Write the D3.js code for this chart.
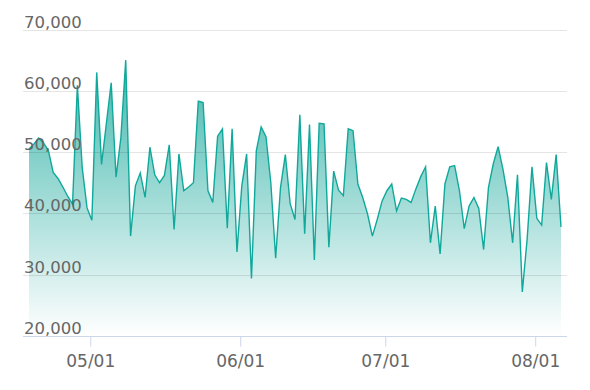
<!DOCTYPE html>
<html>
<head>
<meta charset="utf-8">
<script src="https://cdn.jsdelivr.net/npm/d3@7"></script>
<style>
  html, body { margin: 0; padding: 0; background: #fff; }
  svg { display: block; font-family: "DejaVu Sans", sans-serif; }
</style>
</head>
<body>
<svg id="chart" width="590" height="390"></svg>
<script>
// ---- data ----
const startDay = "2023-04-18T08:00:00Z";   // first daily observation
const values = [
  50500, 51300, 52300, 51500, 50300, 46700, 45700, 44300, 42800, 41500,
  60900, 47500, 40900, 38900, 63000, 48000, 54700, 61300, 45900, 52400,
  65000, 36300, 44500, 46600, 42600, 50800, 46300, 45000, 46200, 51200,
  37400, 49700, 43700, 44300, 45000, 58300, 58100, 43700, 41800, 52600,
  53800, 37600, 53800, 33700, 44500, 49700, 29400, 50200, 54100, 52500,
  45000, 32700, 44200, 49600, 41600, 39000, 56100, 36700, 54500, 32400,
  54700, 54600, 34500, 46900, 43800, 42900, 53800, 53500, 44800, 42600,
  39900, 36300, 39000, 42000, 43700, 44800, 40400, 42500, 42300, 41800,
  44000, 46000, 47600, 35200, 41200, 33400, 44800, 47600, 47800, 43700,
  37500, 41200, 42600, 40800, 34100, 44200, 48100, 50900, 47200, 42600,
  35200, 46300, 27200, 35800, 47600, 39200, 38100, 48300, 42300, 49600,
  37800
];
const yTicks = [20000, 30000, 40000, 50000, 60000, 70000];
const xTickFormat = "%m/%d";

const start = new Date(startDay);
const data = values.map((v, i) => ({ date: d3.utcDay.offset(start, i), value: v }));

// ---- layout ----
const svg = d3.select("#chart");
const plotLeft = 23, plotRight = 567;
const x = d3.scaleUtc()
  .domain(d3.extent(data, d => d.date))
  .range([29, 561]);
const y = d3.scaleLinear().domain([20000, 70000]).range([336, 29.5]);

// gradient
const defs = svg.append("defs");
const grad = defs.append("linearGradient")
  .attr("id", "areaGrad").attr("x1", 0).attr("y1", 0).attr("x2", 0).attr("y2", 1);
grad.append("stop").attr("offset", "0%").attr("stop-color", "#18a89c").attr("stop-opacity", 0.82);
grad.append("stop").attr("offset", "100%").attr("stop-color", "#18a89c").attr("stop-opacity", 0.0);

// area
const area = d3.area()
  .x(d => x(d.date)).y0(y(20000)).y1(d => y(d.value));
svg.append("path").datum(data)
  .attr("d", area).attr("fill", "url(#areaGrad)");

// grid lines (above area, semi-transparent)
svg.append("g").selectAll("line")
  .data(yTicks.filter(t => t !== 20000))
  .join("line")
  .attr("x1", plotLeft).attr("x2", plotRight)
  .attr("y1", d => Math.round(y(d)) + 0.5).attr("y2", d => Math.round(y(d)) + 0.5)
  .attr("stroke", "#000").attr("stroke-opacity", 0.1).attr("stroke-width", 1);

// line
const line = d3.line().x(d => x(d.date)).y(d => y(d.value));
svg.append("path").datum(data)
  .attr("d", line).attr("fill", "none")
  .attr("stroke", "#10a89b").attr("stroke-width", 1.4)
  .attr("stroke-linejoin", "miter");

// y labels
svg.append("g").selectAll("text")
  .data(yTicks)
  .join("text")
  .attr("x", 24).attr("y", d => y(d) - 2)
  .attr("fill", "#666").attr("font-size", 16.5)
  .text(d => d3.format(",")(d));

// x axis
const xAxis = d3.axisBottom(x)
  .ticks(d3.utcMonth.every(1))
  .tickFormat(d3.utcFormat(xTickFormat))
  .tickSizeInner(10).tickSizeOuter(0).tickPadding(8);
const gx = svg.append("g").attr("transform", `translate(0,${Math.round(y(20000)) + 0.5})`).call(xAxis);
gx.select(".domain").remove();
gx.insert("line", ":first-child")
  .attr("x1", plotLeft).attr("x2", plotRight).attr("y1", 0).attr("y2", 0)
  .attr("stroke", "#ccd6eb").attr("stroke-width", 1);
gx.selectAll(".tick line").attr("stroke", "#ccd6eb");
gx.selectAll(".tick text")
  .attr("fill", "#666").attr("font-size", 17)
  .attr("font-family", "DejaVu Sans, sans-serif");
</script>
</body>
</html>
